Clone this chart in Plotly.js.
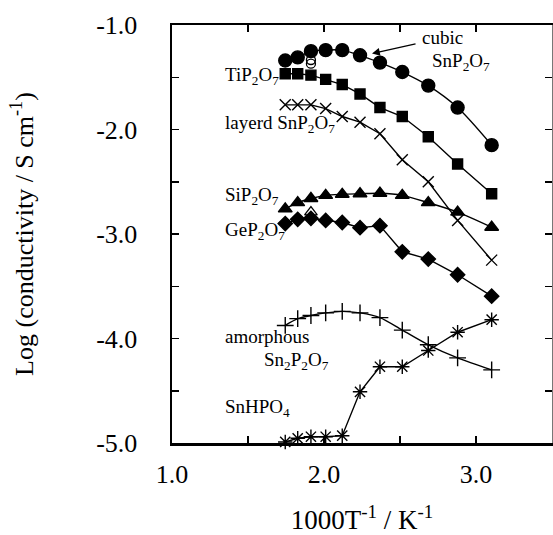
<!DOCTYPE html>
<html>
<head>
<meta charset="utf-8">
<script src="https://cdn.plot.ly/plotly-3.0.1.min.js"></script>
<style>html,body{margin:0;padding:0;background:#fff;}#chart{width:553px;height:535px;}</style>
</head>
<body>
<div id="chart"></div>
<script>
// Shared temperature axis values (1000/T)
const xT = [1.745, 1.827, 1.914, 2.011, 2.12, 2.237, 2.368, 2.515, 2.686, 2.879, 3.103];

const cubicSnP2O7   = [-1.34, -1.31, -1.25, -1.24, -1.24, -1.29, -1.36, -1.45, -1.58, -1.79, -2.15];
const TiP2O7        = [-1.467, -1.467, -1.48, -1.52, -1.57, -1.66, -1.79, -1.876, -2.07, -2.33, -2.615];
const layeredSnP2O7 = [-1.764, -1.764, -1.764, -1.80, -1.876, -1.93, -2.04, -2.29, -2.50, -2.87, -3.25];
const SiP2O7        = [-2.76, -2.70, -2.66, -2.63, -2.62, -2.615, -2.61, -2.63, -2.70, -2.79, -2.935];
const GeP2O7        = [-2.90, -2.86, -2.85, -2.87, -2.89, -2.94, -2.92, -3.17, -3.24, -3.39, -3.595];
const amorphSn2P2O7 = [-3.875, -3.81, -3.78, -3.755, -3.74, -3.755, -3.80, -3.92, -4.06, -4.185, -4.30];
const SnHPO4        = [-4.99, -4.955, -4.94, -4.94, -4.93, -4.51, -4.27, -4.27, -4.115, -3.94, -3.82];

// open (hollow) markers
const openCircX = [1.914, 1.914];
const openCircY = [-1.335, -1.37];
const openTriX = [1.914];
const openTriY = [-2.79];

const xTickVals = [1.0, 1.5, 2.0, 2.5, 3.0, 3.5];
const xTickText = ['1.0', '', '2.0', '', '3.0', ''];
const yTickVals = [-5.0, -4.5, -4.0, -3.5, -3.0, -2.5, -2.0, -1.5, -1.0];
const yTickText = ['-5.0', '', '-4.0', '', '-3.0', '', '-2.0', '', '-1.0'];

const black = '#000';
function tr(y, symbol, size, shape) {
  return {
    x: xT, y: y, type: 'scatter', mode: 'lines+markers',
    line: {color: black, width: 1.4, shape: shape || 'linear', smoothing: 0.8},
    marker: {symbol: symbol, size: size, color: black, line: {color: black, width: 1.4}},
    showlegend: false, cliponaxis: false
  };
}

const data = [
  tr(cubicSnP2O7, 'circle', 13, 'spline'),
  tr(TiP2O7, 'square', 10, 'linear'),
  tr(layeredSnP2O7, 'x-thin-open', 11, 'linear'),
  tr(SiP2O7, 'triangle-up', 12, 'spline'),
  tr(GeP2O7, 'diamond', 11, 'linear'),
  tr(amorphSn2P2O7, 'cross-thin-open', 12, 'spline'),
  tr(SnHPO4, 'asterisk-open', 12, 'linear'),
  {x: openCircX, y: openCircY, type: 'scatter', mode: 'markers', showlegend: false, cliponaxis: false,
   marker: {symbol: 'circle-open', size: 9, color: black, line: {color: black, width: 1.3}}},
  {x: openTriX, y: openTriY, type: 'scatter', mode: 'markers', showlegend: false, cliponaxis: false,
   marker: {symbol: 'triangle-up-open', size: 11, color: black, line: {color: black, width: 1.3}}},
  // invisible trace to activate right axis
  {x: [1, 3.5], y: [-5, -1], yaxis: 'y2', type: 'scatter', mode: 'markers',
   marker: {opacity: 0}, showlegend: false, hoverinfo: 'skip'}
];

const serif = 'Liberation Serif';
const ann = (text, x, y, xanchor) => ({
  text: text, x: x, y: y, xref: 'paper', yref: 'paper', showarrow: false,
  xanchor: xanchor || 'left', yanchor: 'middle', font: {family: serif, size: 19, color: black}
});
// pixel positions to paper fractions (plot area: x 172..552, y 25..443)
const px = v => (v - 172) / 380;
const py = v => (443 - v) / 418;

const layout = {
  width: 553, height: 535,
  margin: {l: 172, r: 1, t: 25, b: 92},
  paper_bgcolor: '#fff', plot_bgcolor: '#fff',
  font: {family: serif, color: black, size: 25},
  xaxis: {
    range: [1.0, 3.5], tickmode: 'array', tickvals: xTickVals, ticktext: xTickText,
    ticks: 'inside', ticklen: 7, tickwidth: 1.5, tickcolor: black,
    showline: true, linewidth: 2.5, linecolor: black, mirror: 'ticks',
    showgrid: false, zeroline: false, ticklabelstandoff: 6,
    tickfont: {family: serif, size: 26, color: black},
    title: {text: '1000T<sup>-1</sup> / K<sup>-1</sup>', font: {family: serif, size: 27, color: black}, standoff: 23}
  },
  yaxis: {
    range: [-5.0, -1.0], tickmode: 'array', tickvals: yTickVals, ticktext: yTickText,
    ticks: 'inside', ticklen: 7, tickwidth: 1.5, tickcolor: black,
    showline: true, linewidth: 2.5, linecolor: black,
    showgrid: false, zeroline: false, ticklabelstandoff: 27,
    tickfont: {family: serif, size: 26, color: black},
    title: {text: 'Log (conductivity / S cm<sup>-1</sup>)', font: {family: serif, size: 26, color: black}, standoff: 55}
  },
  yaxis2: {
    range: [-5.0, -1.0], overlaying: 'y', side: 'right', tickmode: 'array', tickvals: yTickVals,
    ticks: 'inside', ticklen: 7, tickwidth: 1.5, tickcolor: black, showticklabels: false,
    showline: true, linewidth: 1, linecolor: '#777', showgrid: false, zeroline: false
  },
  annotations: [
    ann('cubic', px(420), py(37)),
    ann('SnP<sub>2</sub>O<sub>7</sub>', px(430), py(62)),
    ann('TiP<sub>2</sub>O<sub>7</sub>', px(281), py(76), 'right'),
    ann('layerd SnP<sub>2</sub>O<sub>7</sub>', px(223), py(124)),
    ann('SiP<sub>2</sub>O<sub>7</sub>', px(223), py(196)),
    ann('GeP<sub>2</sub>O<sub>7</sub>', px(223), py(231)),
    ann('amorphous', px(223), py(336)),
    ann('Sn<sub>2</sub>P<sub>2</sub>O<sub>7</sub>', px(262), py(361)),
    ann('SnHPO<sub>4</sub>', px(223), py(408)),
    {x: 2.316, y: -1.273, xref: 'x', yref: 'y', ax: 45, ay: -10,
     text: '', showarrow: true, arrowhead: 2, arrowsize: 1.2, arrowwidth: 1.3, arrowcolor: black}
  ]
};

Plotly.newPlot('chart', data, layout, {staticPlot: true, displayModeBar: false});
</script>
</body>
</html>
